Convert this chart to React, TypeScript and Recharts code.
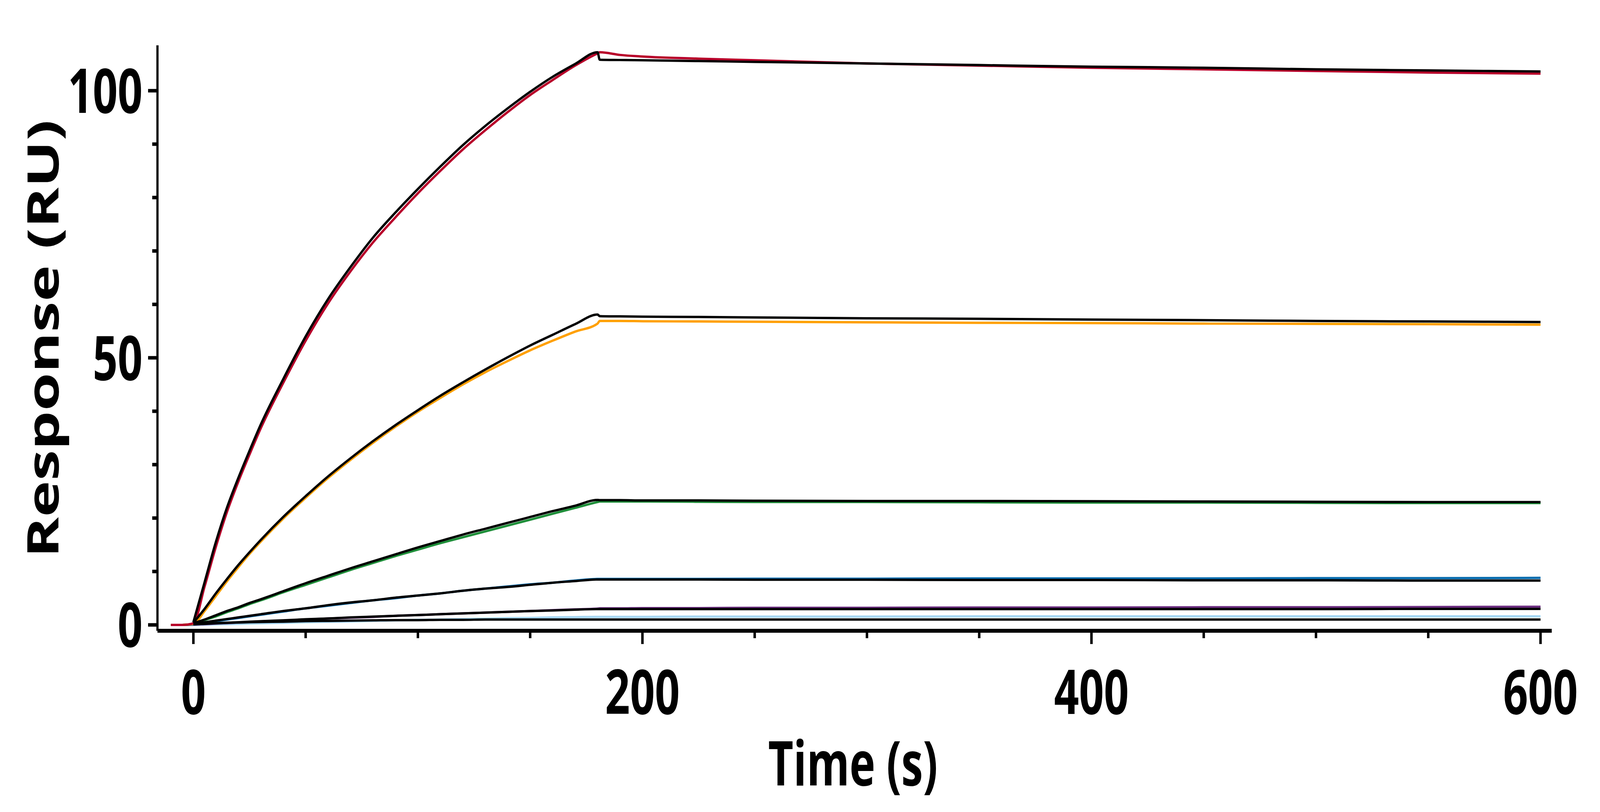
import React from 'react';
import { LineChart, Line, XAxis, YAxis } from 'recharts';

// ---- time grids (s) ----
const baseTimes = [-10, -5];
const assocTimes = [0, 5, 10, 15, 20, 25, 30, 40, 50, 60, 70, 80, 90, 100, 110, 120, 130, 140, 150, 160, 170, 180];
const dissocTimes = [181, 190, 200, 225, 250, 300, 350, 400, 450, 500, 550, 600];

// ---- axis ticks ----
const xTicks = [0, 50, 100, 150, 200, 250, 300, 350, 400, 450, 500, 550, 600];
const xMajor = [0, 200, 400, 600];
const yTicks = [0, 10, 20, 30, 40, 50, 60, 70, 80, 90, 100];
const yMajor = [0, 50, 100];

// ---- measured responses (RU) ----
const baseZero = [0, 0];

const redAssoc = [0.3, 7.2, 14.6, 21.2, 26.8, 31.9, 36.8, 45.3, 53.2, 60.2, 66.2, 71.6, 76.3, 80.8, 85.0, 89.0, 92.6, 96.0, 99.2, 102.0, 104.7, 107.0];
const redDissoc = [107.2, 106.7, 106.4, 106.0, 105.7, 105.1, 104.7, 104.3, 104.0, 103.7, 103.4, 103.2];

const orangeAssoc = [0.2, 2.6, 5.4, 8.2, 10.8, 13.3, 15.6, 19.9, 23.8, 27.5, 30.9, 34.1, 37.1, 39.9, 42.5, 45.0, 47.3, 49.4, 51.4, 53.2, 54.9, 56.4];
const orangeDissoc = [56.9, 56.9, 56.85, 56.8, 56.75, 56.65, 56.55, 56.5, 56.4, 56.35, 56.3, 56.2];

const greenAssoc = [0.2, 0.9, 1.6, 2.4, 3.1, 3.9, 4.6, 6.1, 7.5, 8.9, 10.3, 11.6, 12.9, 14.1, 15.3, 16.4, 17.5, 18.6, 19.7, 20.8, 21.9, 23.0];
const greenDissoc = [23.1, 23.1, 23.1, 23.05, 23.0, 23.0, 22.95, 22.9, 22.9, 22.85, 22.8, 22.8];

const blueAssoc = [0.1, 0.4, 0.7, 1.0, 1.3, 1.6, 1.9, 2.5, 3.1, 3.6, 4.1, 4.6, 5.0, 5.5, 5.9, 6.4, 6.8, 7.2, 7.6, 7.9, 8.3, 8.6];
const blueDissoc = [8.6, 8.6, 8.6, 8.6, 8.65, 8.65, 8.7, 8.7, 8.7, 8.75, 8.75, 8.8];

const purpleAssoc = [0.05, 0.15, 0.25, 0.35, 0.45, 0.55, 0.65, 0.8, 1.0, 1.2, 1.35, 1.5, 1.7, 1.85, 2.0, 2.15, 2.3, 2.45, 2.6, 2.75, 2.9, 3.05];
const purpleDissoc = [3.1, 3.1, 3.15, 3.15, 3.2, 3.2, 3.25, 3.25, 3.3, 3.3, 3.35, 3.4];

const lightAssoc = [0, 0.05, 0.1, 0.15, 0.2, 0.25, 0.3, 0.4, 0.5, 0.6, 0.65, 0.75, 0.85, 0.95, 1.0, 1.1, 1.15, 1.25, 1.3, 1.4, 1.45, 1.5];
const lightDissoc = [1.5, 1.5, 1.5, 1.55, 1.55, 1.55, 1.6, 1.6, 1.6, 1.6, 1.6, 1.6];

// ---- fitted curves (RU) ----
const redFitAssoc = [0.5, 8.0, 15.5, 22.0, 27.5, 32.6, 37.5, 46.0, 54.0, 61.0, 67.0, 72.5, 77.2, 81.6, 85.8, 89.8, 93.4, 96.7, 99.8, 102.6, 105.0, 107.2];
const redFitDissoc = [105.8, 105.75, 105.7, 105.55, 105.4, 105.1, 104.8, 104.5, 104.3, 104.0, 103.8, 103.6];

const orangeFitAssoc = [0.4, 3.0, 5.9, 8.6, 11.2, 13.6, 15.9, 20.2, 24.1, 27.8, 31.2, 34.4, 37.4, 40.2, 42.9, 45.4, 47.8, 50.1, 52.3, 54.3, 56.3, 58.1];
const orangeFitDissoc = [57.8, 57.75, 57.7, 57.65, 57.55, 57.4, 57.3, 57.15, 57.05, 56.9, 56.8, 56.7];

const greenFitAssoc = [0.3, 1.0, 1.8, 2.6, 3.3, 4.1, 4.8, 6.3, 7.8, 9.2, 10.6, 11.9, 13.2, 14.5, 15.7, 16.9, 18.0, 19.1, 20.2, 21.3, 22.3, 23.4];
const greenFitDissoc = [23.35, 23.35, 23.3, 23.3, 23.25, 23.2, 23.2, 23.15, 23.1, 23.05, 23.0, 23.0];

const blueFitAssoc = [0.2, 0.5, 0.8, 1.1, 1.4, 1.7, 2.0, 2.6, 3.1, 3.7, 4.2, 4.6, 5.1, 5.5, 5.9, 6.4, 6.8, 7.1, 7.5, 7.9, 8.2, 8.5];
const blueFitDissoc = [8.5, 8.5, 8.5, 8.5, 8.45, 8.45, 8.4, 8.4, 8.35, 8.35, 8.3, 8.3];

const purpleFitAssoc = [0.1, 0.2, 0.3, 0.4, 0.5, 0.6, 0.7, 0.85, 1.05, 1.2, 1.4, 1.55, 1.7, 1.85, 2.0, 2.15, 2.3, 2.45, 2.6, 2.7, 2.85, 2.95];
const purpleFitDissoc = [2.95, 2.95, 2.95, 2.95, 2.95, 2.95, 2.95, 2.95, 2.95, 2.95, 3.0, 3.0];

const lightFitAssoc = [0.2, 0.3, 0.35, 0.4, 0.45, 0.5, 0.55, 0.6, 0.7, 0.75, 0.8, 0.85, 0.9, 0.9, 0.95, 0.95, 1.0, 1.0, 1.0, 1.0, 1.0, 1.0];
const lightFitDissoc = [1.0, 1.0, 1.0, 1.0, 1.0, 1.0, 1.0, 1.0, 1.0, 1.0, 1.0, 1.0];

const colors = {
  red: '#b8002a',
  orange: '#ffa000',
  green: '#1f8f3a',
  blue: '#0a6eb0',
  purple: '#6c2d80',
  light: '#a8d8f4',
  fit: '#000000',
};

type Pt = { t: number; v: number };
const pts = (times: number[], values: number[]): Pt[] => times.map((t, i) => ({ t, v: values[i] }));
const measured = (a: number[], d: number[]): Pt[] => [
  ...pts(baseTimes, baseZero),
  ...pts(assocTimes, a),
  ...pts(dissocTimes, d),
];
const fitted = (a: number[], d: number[]): Pt[] => [...pts(assocTimes, a), ...pts(dissocTimes, d)];

const dataSeries = [
  { name: 'light', color: colors.light, data: measured(lightAssoc, lightDissoc) },
  { name: 'purple', color: colors.purple, data: measured(purpleAssoc, purpleDissoc) },
  { name: 'blue', color: colors.blue, data: measured(blueAssoc, blueDissoc) },
  { name: 'green', color: colors.green, data: measured(greenAssoc, greenDissoc) },
  { name: 'orange', color: colors.orange, data: measured(orangeAssoc, orangeDissoc) },
  { name: 'red', color: colors.red, data: measured(redAssoc, redDissoc) },
];
const fitSeries = [
  { name: 'fitLight', data: fitted(lightFitAssoc, lightFitDissoc) },
  { name: 'fitPurple', data: fitted(purpleFitAssoc, purpleFitDissoc) },
  { name: 'fitBlue', data: fitted(blueFitAssoc, blueFitDissoc) },
  { name: 'fitGreen', data: fitted(greenFitAssoc, greenFitDissoc) },
  { name: 'fitOrange', data: fitted(orangeFitAssoc, orangeFitDissoc) },
  { name: 'fitRed', data: fitted(redFitAssoc, redFitDissoc) },
];

const FONT = "'Open Sans', 'Noto Sans', sans-serif";
const REF_W = 5802;
const REF_H = 2079;

export default function App() {
  const W = typeof window !== 'undefined' && window.innerWidth ? window.innerWidth : REF_W;
  const H = typeof window !== 'undefined' && window.innerHeight ? window.innerHeight : REF_H;
  const sx = W / REF_W;
  const sy = H / REF_H;
  const k = sx / sy; // horizontal squeeze so text keeps the reference's proportions
  const FS = 158 * sy;
  const sw = (sx + sy) / 2;

  const Txt = ({ x, y, anchor, rotate, children }: any) => (
    <text
      x={0}
      y={0}
      transform={`translate(${x},${y}) scale(${k},1)${rotate ? ' rotate(-90)' : ''}`}
      textAnchor={anchor}
      fontSize={FS}
      fontWeight={700}
      fontFamily={FONT}
      fill="#000"
    >
      {children}
    </text>
  );

  const XTick = (props: any) => {
    const { x, y, payload } = props;
    const major = xMajor.includes(payload.value);
    return (
      <g>
        <line x1={x} y1={y} x2={x} y2={y + (major ? 34 : 19) * sy} stroke="#000" strokeWidth={9 * sx} />
        {major && (
          <Txt x={x} y={y + 213 * sy} anchor="middle">
            {payload.value}
          </Txt>
        )}
      </g>
    );
  };

  const YTick = (props: any) => {
    const { x, y, payload } = props;
    const major = yMajor.includes(payload.value);
    return (
      <g>
        <line x1={x} y1={y} x2={x - (major ? 34 : 19) * sx} y2={y} stroke="#000" strokeWidth={9 * sy} />
        {major && (
          <Txt x={x - 54 * sx} y={y + 0.357 * FS} anchor="end">
            {payload.value}
          </Txt>
        )}
      </g>
    );
  };

  const XLabel = (props: any) => {
    const vb = props.viewBox || { x: 0, y: 0, width: 0 };
    return (
      <Txt x={vb.x + vb.width / 2 - 6 * sx} y={vb.y + 396 * sy} anchor="middle">
        Time (s)
      </Txt>
    );
  };

  const YLabel = (props: any) => {
    const vb = props.viewBox || { x: 0, y: 0, height: 0 };
    return (
      <Txt x={vb.x + 213 * sx} y={vb.y + vb.height / 2 + 2 * sy} anchor="middle" rotate>
        Response (RU)
      </Txt>
    );
  };

  return (
    <div style={{ position: 'fixed', left: 0, top: 0, width: W, height: H, background: '#fff' }}>
      <LineChart width={W} height={H} margin={{ top: 116 * sy, right: 175 * sx, bottom: 0, left: 0 }}>
        <XAxis
          dataKey="t"
          type="number"
          domain={[-16, 605]}
          allowDataOverflow
          ticks={xTicks}
          interval={0}
          tickSize={0}
          tickMargin={0}
          tickLine={false}
          tick={<XTick />}
          axisLine={{ stroke: '#000', strokeWidth: 10 * sy }}
          height={464 * sy}
          label={XLabel}
        />
        <YAxis
          dataKey="v"
          type="number"
          domain={[-1.1, 108.5]}
          allowDataOverflow
          ticks={yTicks}
          interval={0}
          tickSize={0}
          tickMargin={0}
          tickLine={false}
          tick={<YTick />}
          axisLine={{ stroke: '#000', strokeWidth: 8 * sx }}
          width={571 * sx}
          label={YLabel}
        />
        {dataSeries.map((d) => (
          <Line
            key={d.name}
            data={d.data}
            dataKey="v"
            type="monotone"
            stroke={d.color}
            strokeWidth={7 * sw}
            dot={false}
            activeDot={false}
            isAnimationActive={false}
          />
        ))}
        {fitSeries.map((d) => (
          <Line
            key={d.name}
            data={d.data}
            dataKey="v"
            type="monotone"
            stroke={colors.fit}
            strokeWidth={7 * sw}
            dot={false}
            activeDot={false}
            isAnimationActive={false}
          />
        ))}
      </LineChart>
    </div>
  );
}
